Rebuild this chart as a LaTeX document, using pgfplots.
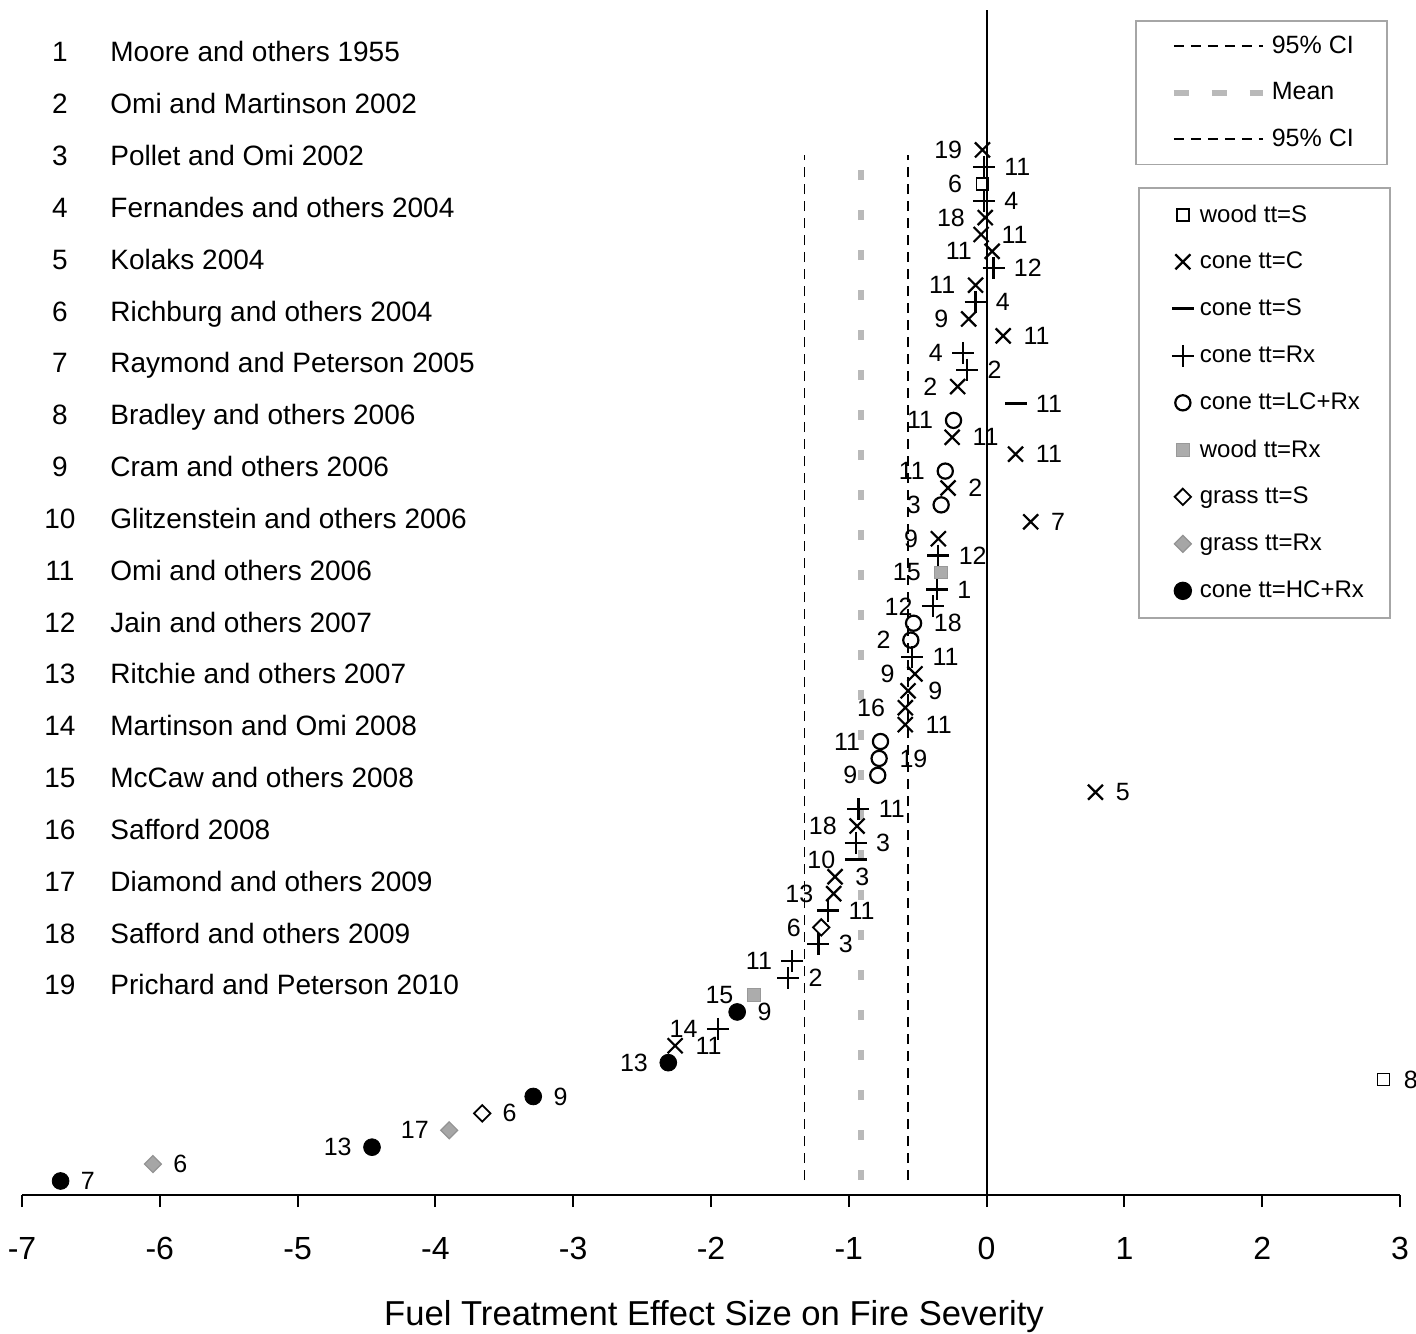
\documentclass[border=0pt]{standalone}
\usepackage{pgfplots}
\pgfplotsset{compat=1.18}
\usepackage{fontspec}
\setmainfont{Liberation Sans}
\newcommand{\lblfont}{\fontsize{12.5}{14}\selectfont}
\newcommand{\legfont}{\fontsize{12}{14}\selectfont}
\begin{document}
\begin{tikzpicture}
\useasboundingbox (-11pt,-69pt) rectangle (697pt,597.5pt);
\pgfplotsset{base/.style={scale only axis, width=689pt, height=592.5pt,
  xmin=-7, xmax=3, ymin=0.17, ymax=70.28, clip=false}}
% ---------- CI and mean lines, first legend ----------
\begin{axis}[base, hide axis,
  legend style={at={(0.8077,0.9915)}, anchor=north west, draw=gray!70, line width=0.8pt,
    inner xsep=14.5pt, inner ysep=1pt, font=\lblfont, row sep=0pt, column sep=1pt,
    cells={anchor=west, minimum height=23.25pt, inner xsep=1pt}},
  legend image code/.code={\path[draw=none, fill=none] (0pt,-1pt) rectangle (49pt,1pt);
    \draw[#1] (4.5pt,0pt) -- (49pt,0pt);}]
\addplot[black, line width=0.7pt, dash pattern=on 5pt off 3.5pt] coordinates {(-1.32,1.05) (-1.32,61.7)};
\addlegendentry{95\% CI}
\addplot[gray!55, line width=3pt, dash pattern=on 5pt off 15pt,
  legend image code/.code={\path[draw=none, fill=none] (0pt,-1pt) rectangle (49pt,1pt);
    \draw[gray!55, line width=3pt, dash pattern=on 7.5pt off 11.5pt] (4.5pt,0pt) -- (49pt,0pt);}]
  coordinates {(-0.91,1.05) (-0.91,62)};
\addlegendentry{Mean}
\addplot[black, line width=0.7pt, dash pattern=on 5pt off 3.5pt] coordinates {(-0.57,1.05) (-0.57,61.7)};
\addlegendentry{95\% CI}
\end{axis}
% ---------- main axis ----------
\begin{axis}[base,
  axis x line*=bottom, axis y line=none,
  x axis line style={line width=1pt},
  xtick={-7,-6,-5,-4,-3,-2,-1,0,1,2,3},
  xticklabels={-7,-6,-5,-4,-3,-2,-1,0,1,2,3},
  tick align=outside, major tick length=6pt, tick style={black, line width=1pt},
  xticklabel style={font=\fontsize{16}{18}\selectfont, anchor=base, yshift=-26pt},
  xlabel={Fuel Treatment Effect Size on Fire Severity},
  xlabel style={font=\fontsize{17.3}{19}\selectfont, at={(axis description cs:0.5,0)}, anchor=base, yshift=-65pt, xshift=1.5pt},
  legend style={at={(0.8099,0.8506)}, anchor=north west, draw=gray!70, line width=0.8pt,
    inner xsep=11pt, inner ysep=1.75pt, font=\legfont, row sep=0pt, column sep=0.5pt,
    cells={anchor=west, minimum height=23.5pt, inner xsep=0.5pt}},
  legend image code/.code={\path[draw=none, fill=none] (-11pt,-1pt) rectangle (6pt,1pt);
    \draw[mark repeat=2, mark phase=2, #1] plot coordinates {(-5pt,0pt) (0pt,0pt) (5pt,0pt)};}]
\addplot[black, line width=1pt, forget plot] coordinates {(0,0.17) (0,70.28)};
% wood tt=S
\addplot[only marks, mark=square, mark size=3pt, mark options={draw=black, fill=white, line width=0.8pt}] table {
x y
-0.03 60
2.88 7
};
\addlegendentry{wood tt=S}
% cone tt=C
\addplot[only marks, mark=x, mark size=5.3pt, mark options={black, line width=1.1pt}] table {
x y
-0.03 62
-0.01 58
-0.04 57
0.04 56
-0.08 54
-0.13 52
0.12 51
-0.21 48
-0.25 45
0.21 44
-0.28 42
0.32 40
-0.35 39
-0.52 31
-0.57 30
-0.59 29
-0.59 28
0.79 24
-0.94 22
-1.10 19
-1.11 18
-2.26 9
};
\addlegendentry{cone tt=C}
% cone tt=S
\addplot[only marks, mark=-, mark size=5.5pt, mark options={black, line width=1.5pt}] table {
x y
0.21 47
-0.95 20
};
\addlegendentry{cone tt=S}
% cone tt=Rx
\addplot[only marks, mark=+, mark size=5.5pt, mark options={black, line width=1.1pt}] table {
x y
-0.02 61
-0.02 59
0.05 55
-0.08 53
-0.17 50
-0.14 49
-0.35 38
-0.36 36
-0.39 35
-0.54 32
-0.93 23
-0.95 21
-1.15 17
-1.22 15
-1.41 14
-1.44 13
-1.95 10
};
\addlegendentry{cone tt=Rx}
% cone tt=LC+Rx
\addplot[only marks, mark=o, mark size=3.8pt, mark options={black, line width=1.1pt}] table {
x y
-0.24 46
-0.30 43
-0.33 41
-0.53 34
-0.55 33
-0.77 27
-0.78 26
-0.79 25
};
\addlegendentry{cone tt=LC+Rx}
% wood tt=Rx
\addplot[only marks, mark=square*, mark size=3.2pt, mark options={draw=gray!80, fill=gray!65, line width=0.5pt}] table {
x y
-0.33 37
-1.69 12
};
\addlegendentry{wood tt=Rx}
% grass tt=S
\addplot[only marks, mark=square, mark size=2.9pt, mark options={draw=black, fill=white, line width=0.9pt, rotate=45}] table {
x y
-1.20 16
-3.66 5
};
\addlegendentry{grass tt=S}
% grass tt=Rx
\addplot[only marks, mark=square*, mark size=3pt, mark options={draw=gray!85, fill=gray!70, line width=0.6pt, rotate=45}] table {
x y
-3.90 4
-6.05 2
};
\addlegendentry{grass tt=Rx}
% cone tt=HC+Rx
\addplot[only marks, mark=*, mark size=4.2pt, mark options={draw=black, fill=black}] table {
x y
-1.81 11
-2.31 8
-3.29 6
-4.46 3
-6.72 1
};
\addlegendentry{cone tt=HC+Rx}
% labels on the left of the points
\addplot[only marks, mark=none, forget plot, nodes near coords, point meta=explicit symbolic,
  nodes near coords style={anchor=east, xshift=-10pt, inner sep=0pt, font=\lblfont}] table[meta=l] {
x y l
-0.03 62 19
-0.03 60 6
-0.01 58 18
0.04 56 11
-0.08 54 11
-0.13 52 9
-0.17 50 4
-0.21 48 2
-0.24 46 11
-0.30 43 11
-0.33 41 3
-0.35 39 9
-0.33 37 15
-0.39 35 12
-0.55 33 2
-0.52 31 9
-0.59 29 16
-0.77 27 11
-0.79 25 9
-0.94 22 18
-0.95 20 10
-1.11 18 13
-1.20 16 6
-1.41 14 11
-1.69 12 15
-1.95 10 14
-2.31 8 13
-3.90 4 17
-4.46 3 13
};
% labels on the right of the points
\addplot[only marks, mark=none, forget plot, nodes near coords, point meta=explicit symbolic,
  nodes near coords style={anchor=west, xshift=10pt, inner sep=0pt, font=\lblfont}] table[meta=l] {
x y l
-0.02 61 11
-0.02 59 4
-0.04 57 11
0.05 55 12
-0.08 53 4
0.12 51 11
-0.14 49 2
0.21 47 11
-0.25 45 11
0.21 44 11
-0.28 42 2
0.32 40 7
-0.35 38 12
-0.36 36 1
-0.53 34 18
-0.54 32 11
-0.57 30 9
-0.59 28 11
-0.78 26 19
0.79 24 5
-0.93 23 11
-0.95 21 3
-1.10 19 3
-1.15 17 11
-1.22 15 3
-1.44 13 2
-1.81 11 9
-2.26 9 11
2.88 7 8
-3.29 6 9
-3.66 5 6
-6.05 2 6
-6.72 1 7
};
\end{axis}
% ---------- study list ----------
\begin{scope}[x=0.5pt, y=-0.5pt, shift={(-11pt,597.5pt)}]
\foreach \i/\t in {1/Moore and others 1955, 2/Omi and Martinson 2002, 3/Pollet and Omi 2002,
  4/Fernandes and others 2004, 5/Kolaks 2004, 6/Richburg and others 2004,
  7/Raymond and Peterson 2005, 8/Bradley and others 2006, 9/Cram and others 2006,
  10/Glitzenstein and others 2006, 11/Omi and others 2006, 12/Jain and others 2007,
  13/Ritchie and others 2007, 14/Martinson and Omi 2008, 15/McCaw and others 2008,
  16/Safford 2008, 17/Diamond and others 2009, 18/Safford and others 2009,
  19/Prichard and Peterson 2010}{
  \node[anchor=base, inner sep=0pt, font=\fontsize{14}{16}\selectfont] at (60,{62+(\i-1)*51.83}) {\i};
  \node[anchor=base west, inner sep=0pt, font=\fontsize{14}{16}\selectfont] at (110,{62+(\i-1)*51.83}) {\t};
}
\end{scope}
\end{tikzpicture}
\end{document}
